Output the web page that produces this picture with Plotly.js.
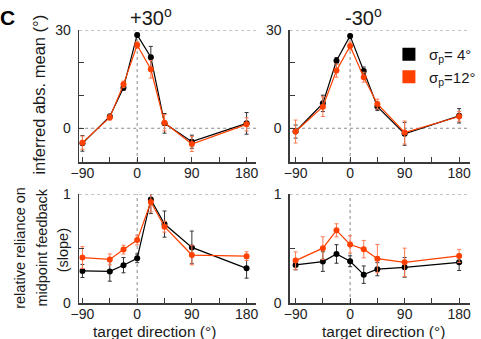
<!DOCTYPE html>
<html>
<head>
<meta charset="utf-8">
<script src="https://cdn.plot.ly/plotly-3.0.1.min.js"></script>
<style>html,body{margin:0;padding:0;background:#fff;}#chart{width:481px;height:339px;}</style>
</head>
<body>
<div id="chart"></div>
<script>
// ---- data ----
const directions = [-90, -45, -22.5, 0, 22.5, 45, 90, 180];

// inferred abs. mean, +30 deg perturbation
const meanPos_s4      = [-4.6, 3.6, 12.4, 28.5, 21.7, 1.5, -4.1, 1.5];
const meanPos_s4_err  = [2.4, 0.7, 0.8, 0.5, 3.3, 3.0, 2.0, 3.3];
const meanPos_s12     = [-4.4, 3.3, 13.4, 25.4, 18.0, 1.7, -4.8, 1.2];
const meanPos_s12_err = [2.0, 0.8, 1.0, 1.0, 2.7, 2.5, 2.3, 2.0];

// inferred abs. mean, -30 deg perturbation
const meanNeg_s4      = [-1.0, 7.6, 20.6, 28.2, 17.5, 6.6, -1.7, 3.8];
const meanNeg_s4_err  = [2.0, 2.5, 1.0, 0.5, 1.2, 1.2, 3.5, 2.2];
const meanNeg_s12     = [-1.0, 6.6, 17.6, 25.1, 15.6, 7.4, -1.3, 3.6];
const meanNeg_s12_err = [3.5, 3.0, 2.0, 1.2, 1.5, 1.5, 3.5, 1.5];

// relative reliance (slope), +30
const slopePos_s4      = [0.294, 0.29, 0.347, 0.41, 0.95, 0.724, 0.51, 0.318];
const slopePos_s4_err  = [0.06, 0.09, 0.07, 0.04, 0.13, 0.12, 0.15, 0.09];
const slopePos_s12     = [0.417, 0.40, 0.49, 0.577, 0.926, 0.70, 0.44, 0.43];
const slopePos_s12_err = [0.10, 0.05, 0.04, 0.045, 0.09, 0.05, 0.09, 0.04];

// relative reliance (slope), -30
const slopeNeg_s4      = [0.349, 0.38, 0.45, 0.383, 0.26, 0.31, 0.327, 0.373];
const slopeNeg_s4_err  = [0.045, 0.09, 0.085, 0.05, 0.08, 0.06, 0.09, 0.075];
const slopeNeg_s12     = [0.389, 0.503, 0.667, 0.537, 0.494, 0.407, 0.373, 0.432];
const slopeNeg_s12_err = [0.08, 0.105, 0.06, 0.08, 0.08, 0.13, 0.13, 0.06];

const xTickVals = [-90, 0, 90, 180];
const xTickText = ['\u221290', '0', '90', '180'];
const xMinorVals = [-45, 45, 135];
const yTopTickVals = [0, 30];
const yTopTickText = ['0', '30'];
const yTopMinorVals = [10, 20];
const yBotTickVals = [0, 1];
const yBotTickText = ['0', '1'];
const yBotMinorVals = [0.5];

const legendNames = ['\u03c3<sub>p</sub>= 4\u00b0', '\u03c3<sub>p</sub>=12\u00b0'];
const panelTitles = ['+30<sup>o</sup>', '-30<sup>o</sup>'];

// ---- styling ----
const FONT = 'Liberation Sans, Arial, Helvetica, sans-serif';
const BLACK = '#000000';
const ORANGE = '#ff4000';
const ORANGE_ERR = '#ff7a50';
const AX = '#3a3a3a';

function series(y, err, color, errColor, xa, ya) {
  return {
    x: directions, y: y, xaxis: xa, yaxis: ya,
    type: 'scatter', mode: 'lines+markers', showlegend: false,
    line: {color: color, width: 1.2},
    marker: {color: color, size: 6, symbol: 'circle'},
    error_y: {type: 'data', array: err, visible: true, color: errColor, thickness: 1, width: 2}
  };
}

const traces = [
  series(meanPos_s4, meanPos_s4_err, BLACK, '#333', 'x', 'y'),
  series(meanPos_s12, meanPos_s12_err, ORANGE, ORANGE_ERR, 'x', 'y'),
  series(meanNeg_s4, meanNeg_s4_err, BLACK, '#333', 'x2', 'y2'),
  series(meanNeg_s12, meanNeg_s12_err, ORANGE, ORANGE_ERR, 'x2', 'y2'),
  series(slopePos_s4, slopePos_s4_err, BLACK, '#333', 'x3', 'y3'),
  series(slopePos_s12, slopePos_s12_err, ORANGE, ORANGE_ERR, 'x3', 'y3'),
  series(slopeNeg_s4, slopeNeg_s4_err, BLACK, '#333', 'x4', 'y4'),
  series(slopeNeg_s12, slopeNeg_s12_err, ORANGE, ORANGE_ERR, 'x4', 'y4'),
  // legend entries
  {x: [null], y: [null], xaxis: 'x2', yaxis: 'y2', type: 'scatter', mode: 'markers', name: legendNames[0],
   legendgroup: 'a', marker: {symbol: 'square', size: 13, color: BLACK}},
  {x: [null], y: [null], xaxis: 'x2', yaxis: 'y2', type: 'scatter', mode: 'markers', name: legendNames[1],
   legendgroup: 'b', marker: {symbol: 'square', size: 13, color: ORANGE}}
];

const W = 481, H = 339;
const px = v => v / W;
const py = v => 1 - v / H;

function minorCfg(vals) {
  return {tickmode: 'array', tickvals: vals, ticks: 'inside', ticklen: 5, tickwidth: 1, tickcolor: AX, showgrid: false};
}

function xaxis(domain, range, anchor) {
  return {
    domain: domain, range: range, anchor: anchor, fixedrange: true,
    showline: true, linecolor: AX, linewidth: 1.5, mirror: false,
    ticks: 'inside', ticklen: 5, tickwidth: 1, tickcolor: AX,
    tickmode: 'array', tickvals: xTickVals, ticktext: xTickText,
    minor: minorCfg(xMinorVals),
    tickfont: {family: FONT, size: 14, color: '#222'},
    ticklabelstandoff: -2,
    showgrid: false, zeroline: false
  };
}
function yaxis(domain, range, anchor, vals, text, minorVals) {
  return {
    domain: domain, range: range, anchor: anchor, fixedrange: true,
    showline: true, linecolor: AX, linewidth: 1.5, mirror: false,
    ticks: 'inside', ticklen: 5, tickwidth: 1, tickcolor: AX,
    tickmode: 'array', tickvals: vals, ticktext: text,
    minor: minorCfg(minorVals),
    tickfont: {family: FONT, size: 14, color: '#222'},
    ticklabelstandoff: 4,
    showgrid: false, zeroline: false
  };
}

const leftX = [px(80), px(259)];
const rightX = [px(293), px(475)];
const topY = [py(162), py(30)];
const botY = [py(303), py(194)];

function dotH(xr, yr, yv) {
  return {type: 'line', xref: xr + ' domain', yref: yr, x0: 0, x1: 1, y0: yv, y1: yv,
          line: {color: '#8a8a8a', width: 1, dash: 'dot'}, layer: 'below'};
}
function dotV(xr, yr, xv) {
  return {type: 'line', xref: xr, yref: yr + ' domain', x0: xv, x1: xv, y0: 0, y1: 1,
          line: {color: '#8a8a8a', width: 1, dash: 'dot'}, layer: 'below'};
}

function ann(text, x, y, size, opts) {
  return Object.assign({
    text: text, xref: 'paper', yref: 'paper', x: px(x), y: py(y),
    xanchor: 'center', yanchor: 'middle', showarrow: false,
    font: {family: FONT, size: size, color: '#1a1a1a'}
  }, opts || {});
}

const layout = {
  width: W, height: H,
  margin: {l: 0, r: 0, t: 0, b: 0},
  paper_bgcolor: '#ffffff', plot_bgcolor: 'rgba(0,0,0,0)',
  font: {family: FONT, color: '#1a1a1a'},
  xaxis: xaxis(leftX, [-95.4, 196], 'y'),
  yaxis: yaxis(topY, [-10.3, 30], 'x', yTopTickVals, yTopTickText, yTopMinorVals),
  xaxis2: xaxis(rightX, [-99.3, 198], 'y2'),
  yaxis2: yaxis(topY, [-10.3, 30], 'x2', yTopTickVals, yTopTickText, yTopMinorVals),
  xaxis3: xaxis(leftX, [-95.4, 196], 'y3'),
  yaxis3: yaxis(botY, [0, 1], 'x3', yBotTickVals, yBotTickText, yBotMinorVals),
  xaxis4: xaxis(rightX, [-99.3, 198], 'y4'),
  yaxis4: yaxis(botY, [0, 1], 'x4', yBotTickVals, yBotTickText, yBotMinorVals),
  shapes: [
    dotH('x', 'y', 30), dotH('x', 'y', 0), dotV('x', 'y', 0),
    dotH('x2', 'y2', 30), dotH('x2', 'y2', 0), dotV('x2', 'y2', 0),
    dotH('x3', 'y3', 1), dotV('x3', 'y3', 0),
    dotH('x4', 'y4', 1), dotV('x4', 'y4', 0)
  ],
  showlegend: true,
  legend: {
    x: px(393), y: py(38), xanchor: 'left', yanchor: 'top',
    bgcolor: 'rgba(0,0,0,0)', borderwidth: 0,
    font: {family: FONT, size: 15, color: '#1a1a1a'},
    tracegroupgap: 0, itemwidth: 30
  },
  annotations: [
    ann('<b>C</b>', 8, 17, 21, {font: {family: FONT, size: 21, color: '#000'}}),
    ann(panelTitles[0], 153, 16, 20),
    ann(panelTitles[1], 367, 16, 20),
    ann('inferred abs. mean (\u00b0)', 39, 95, 16.5, {textangle: -90}),
    ann('relative reliance on', 20, 248, 14.5, {textangle: -90}),
    ann('midpoint feedback', 42, 248, 14.5, {textangle: -90}),
    ann('(slope)', 64, 250, 14.5, {textangle: -90}),
    ann('target direction (\u00b0)', 156, 331, 15.5),
    ann('target direction (\u00b0)', 388, 331, 15.5)
  ]
};

Plotly.newPlot('chart', traces, layout, {displayModeBar: false, staticPlot: true});
</script>
</body>
</html>
